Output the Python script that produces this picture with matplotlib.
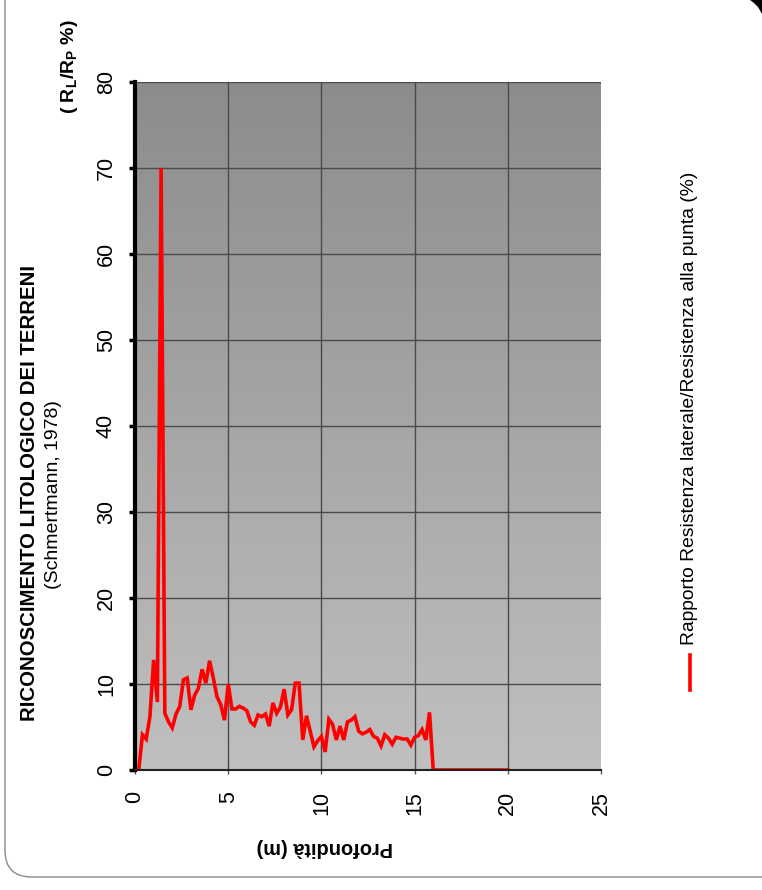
import numpy as np
import matplotlib
matplotlib.use("Agg")
import matplotlib.pyplot as plt
from matplotlib.colors import LinearSegmentedColormap
from matplotlib.patches import FancyBboxPatch, Polygon
from matplotlib.lines import Line2D

plt.rcParams['font.family'] = ['Liberation Sans', 'DejaVu Sans']
plt.rcParams['mathtext.fontset'] = 'custom'
plt.rcParams['mathtext.rm'] = 'Liberation Sans:bold'
plt.rcParams['mathtext.it'] = 'Liberation Sans:bold'
plt.rcParams['mathtext.bf'] = 'Liberation Sans:bold'

# ---- data ----
depth = [0.0, 0.2, 0.4, 0.6, 0.8, 1.0, 1.2, 1.4, 1.6, 1.8,
         2.0, 2.2, 2.4, 2.6, 2.8, 3.0, 3.2, 3.4, 3.6, 3.8,
         4.0, 4.2, 4.4, 4.6, 4.8, 5.0, 5.2, 5.4, 5.6, 5.8,
         6.0, 6.2, 6.4, 6.6, 6.8, 7.0, 7.2, 7.4, 7.6, 7.8,
         8.0, 8.2, 8.4, 8.6, 8.8, 9.0, 9.2, 9.4, 9.6, 9.8,
         10.0, 10.2, 10.4, 10.6, 10.8, 11.0, 11.2, 11.4, 11.6, 11.8,
         12.0, 12.2, 12.4, 12.6, 12.8, 13.0, 13.2, 13.4, 13.6, 13.8,
         14.0, 14.2, 14.4, 14.6, 14.8, 15.0, 15.2, 15.4, 15.6, 15.8,
         16.0, 20.0]
ratio = [0.0, 0.0, 4.1, 3.6, 6.2, 12.8, 7.9, 70.0, 6.6, 5.6,
         4.9, 6.5, 7.4, 10.5, 10.7, 7.0, 8.7, 9.5, 11.7, 10.1,
         12.7, 10.7, 8.5, 7.6, 5.8, 10.0, 7.1, 7.1, 7.4, 7.2,
         6.9, 5.6, 5.2, 6.4, 6.2, 6.5, 5.1, 7.8, 6.6, 7.3,
         9.4, 6.4, 7.0, 10.1, 10.1, 3.5, 6.3, 4.5, 2.7, 3.4,
         3.9, 2.1, 5.9, 5.3, 3.5, 5.1, 3.5, 5.6, 5.8, 6.2,
         4.5, 4.2, 4.4, 4.7, 3.9, 3.7, 2.8, 4.1, 3.7, 3.0,
         3.8, 3.7, 3.6, 3.6, 2.9, 3.8, 4.0, 4.7, 3.5, 6.7,
         0.0, 0.0]
xticks = [0, 5, 10, 15, 20, 25]
yticks = [0, 10, 20, 30, 40, 50, 60, 70, 80]
title = "RICONOSCIMENTO LITOLOGICO DEI TERRENI"
subtitle = "(Schmertmann, 1978)"
ylabel = "( R$_L$/R$_P$ %)"
xlabel = "Profondità (m)"
series_name = "Rapporto Resistenza laterale/Resistenza alla punta (%)"

W, H = 762, 890
def fx(x): return x / W
def fy(y): return 1 - y / H

fig = plt.figure(figsize=(W / 100, H / 100), dpi=100)
fig.patch.set_facecolor('white')

# rounded frame
frame = FancyBboxPatch((fx(5), fy(877)), fx(800) - fx(5), fy(-40) - fy(877),
                       boxstyle="round,pad=0,rounding_size=0.035",
                       transform=fig.transFigure, facecolor='none',
                       edgecolor='#8a8a8a', linewidth=1.0, mutation_aspect=W / H)
fig.add_artist(frame)
corner = Polygon([(fx(750), fy(0)), (fx(762), fy(0)), (fx(762), fy(14)),
                  (fx(758), fy(7)), (fx(754), fy(3))], closed=True,
                 transform=fig.transFigure, facecolor='black', edgecolor='none')
fig.add_artist(corner)

x0, x1, yt, yb = 135, 601, 82, 770
ax = fig.add_axes([fx(x0), fy(yb), fx(x1) - fx(x0), fy(yt) - fy(yb)])
cmap = LinearSegmentedColormap.from_list('g', ['#c0c0c0', '#8c8c8c'])
grad = np.linspace(0, 1, 256)[:, None]
ax.imshow(grad, extent=[0, 25, 0, 80], origin='lower', aspect='auto', cmap=cmap, zorder=0)
ax.set_xlim(0, 25)
ax.set_ylim(0, 80)

for v in xticks[1:-1]:
    ax.axvline(v, color='#4a4a4a', lw=1.0, zorder=1)
for v in yticks[1:]:
    ax.axhline(v, color='#4a4a4a', lw=1.0, zorder=1)

ax.plot(depth, ratio, color='#ff0000', lw=2.6, zorder=3, solid_joinstyle='miter')

for s in ['top', 'right']:
    ax.spines[s].set_visible(False)
ax.spines['left'].set_color('black')
ax.spines['left'].set_linewidth(3.0)
ax.spines['bottom'].set_color('#222222')
ax.spines['bottom'].set_linewidth(1.5)
ax.spines['left'].set_zorder(4)
ax.spines['bottom'].set_zorder(4)

ax.set_xticks(xticks)
ax.set_yticks(yticks)
ax.set_xticklabels([str(v) for v in xticks], rotation=90, fontsize=15.5)
ax.set_yticklabels([str(v) for v in yticks], rotation=90, fontsize=15.5, va='center')
ax.tick_params(axis='y', direction='out', length=4, width=2.5, color='black', pad=9)
ax.tick_params(axis='x', direction='out', length=3, width=1, color='#555555', pad=12)

# texts
fig.text(fx(30), fy(493), title, rotation=90, fontsize=14.7, fontweight='bold',
         ha='center', va='center')
fig.text(fx(53), fy(495), subtitle, rotation=90, fontsize=14,
         ha='center', va='center')
fig.text(fx(70), fy(67), ylabel, rotation=90, fontsize=14, fontweight='bold',
         ha='center', va='center')
fig.text(fx(325), fy(848), xlabel, rotation=180, fontsize=14.3, fontweight='bold',
         ha='center', va='center')

# legend
fig.add_artist(Line2D([fx(690), fx(690)], [fy(690), fy(655)], color='#ff0000', lw=2.6,
                      transform=fig.transFigure))
fig.text(fx(690), fy(645), series_name, rotation=90, fontsize=13.9,
         ha='center', va='bottom')

fig.savefig('out.png', dpi=100)
